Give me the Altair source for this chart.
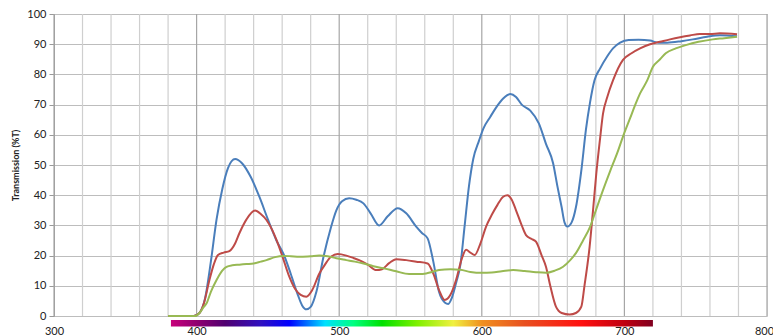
import altair as alt
import pandas as pd

# ---- data ----
blue_nm = [380, 398, 402, 406, 410, 414, 418, 422, 427, 432, 438, 444, 450, 456, 461, 466, 471, 474, 477, 480,
           484, 489, 494, 498, 502, 507, 512, 517, 522, 528, 534, 541, 547, 554, 558, 562, 566, 570, 574, 576.5,
           579, 582, 585, 588, 591, 594, 598, 601, 606, 610, 615, 620, 624, 628, 634, 640, 645, 650, 653, 656,
           658, 660, 663, 666, 670, 673, 676, 679, 683, 688, 692, 697, 703, 710, 718, 724, 730, 740, 748, 758,
           767, 779]
blue_t = [0, 0, 1, 6, 18, 32, 42, 49, 52, 50.5, 46, 39.5, 32, 25, 20.5, 14, 7, 3.5, 2.2, 3,
          8, 19.6, 29, 35, 38, 39, 38.5, 37.3, 34, 30, 33, 35.7, 34, 29.6, 27.5, 25.7, 18, 8, 4.5, 4,
          6, 11, 17, 30, 43, 52, 58, 62, 66, 69, 72, 73.5, 72.5, 70, 68, 63.8, 57, 50.6, 43, 36,
          31, 29.6, 31, 36, 49, 61.6, 71, 78, 82, 86, 88.6, 90.5, 91.4, 91.5, 91.2, 90.5, 90.5, 91, 91.6, 92.5,
          93, 92.6]

red_nm = [380, 398, 402, 405, 409, 412, 415, 419, 423, 427, 430, 435, 441, 445, 449, 453, 456, 460, 465, 469,
          473, 477, 481, 486, 490, 494, 499, 505, 510, 514, 520, 526, 530, 535, 540, 547, 554, 562, 566, 570,
          574, 578, 582, 586, 589, 592, 595, 599, 603, 607, 611, 615, 618, 621, 624, 628, 631, 635, 638, 642,
          645, 648, 652, 656, 661.6, 666, 669.8, 672, 675.6, 678, 680.3, 683, 685, 688, 692, 699, 705, 711, 718,
          725, 732, 739, 746, 753, 760, 767, 779]
red_t = [0, 0, 1, 4, 11.9, 17, 20.2, 21, 21.5, 24, 27.4, 32, 34.9, 33.8, 31.8, 28.5, 25.2, 20, 13, 9,
         7, 6.4, 8.5, 14, 17, 19.5, 20.5, 20, 19.2, 18.5, 17, 15.2, 15.5, 17.5, 18.8, 18.5, 18, 17.4, 14, 8.6,
         5.3, 7, 12, 19, 21.9, 21, 20.2, 24, 29.6, 33.5, 36.8, 39.5, 40, 38.5, 35, 30, 26.8, 25.5, 24.6, 20,
         16.3, 10, 3.1, 1, 0.5, 1, 3.1, 10, 22.9, 35, 47.2, 59, 67, 72.5, 78, 84.8, 87, 88.6, 90,
         90.8, 91.6, 92.3, 92.9, 93.4, 93.4, 93.6, 93.3]

green_nm = [380, 399, 402, 405, 407, 410, 414, 418, 421, 425, 430, 435, 440, 445, 449, 455, 461, 466, 472, 480,
            486, 492, 498, 505, 511, 517, 524, 531, 540, 549, 556, 561, 565, 570, 578, 585, 592, 600, 607, 614,
            622, 630, 638, 645, 651, 657, 662, 666, 671, 676, 680, 685, 690, 695, 699, 704, 708, 711, 716, 720,
            725, 729, 736, 743, 752, 762, 770, 779]
green_t = [0, 0, 1, 3, 4.2, 8, 11.9, 15, 16.3, 16.8, 17, 17.2, 17.4, 18, 18.5, 19.5, 19.9, 19.8, 19.6, 19.8,
           20, 19.8, 19.1, 18.5, 18, 17.4, 16.5, 15.8, 14.8, 13.9, 13.9, 14.1, 14.6, 15.2, 15.5, 15.3, 14.6, 14.3, 14.4, 14.8,
           15.2, 14.9, 14.5, 14.3, 15, 16.3, 18.5, 20.8, 25, 29.6, 35, 41.7, 48, 54, 59.4, 65.5, 70.4, 73.7, 78, 82.5,
           85, 87, 88.6, 89.7, 90.8, 91.6, 92, 92.5]

series_names = ["Blue", "Red", "Green"]
series_colors = ["#4a7ebb", "#be4b48", "#98b954"]

x_grid = list(range(300, 801, 20))
x_labels = list(range(300, 801, 100))
y_ticks = list(range(0, 101, 10))

# spectrum bar (wavelength range and colour stops)
bar_start, bar_end = 382, 720
spec_nm = [382, 400, 420, 445, 465, 490, 510, 530, 555, 580, 600, 630, 670, 700, 720]
spec_col = ["#c8007a", "#900070", "#500070", "#3010c0", "#0000ff", "#00e0ff", "#00ff80", "#00e000",
            "#80f000", "#f0f040", "#f09020", "#e85020", "#ff1010", "#c00010", "#800020"]

# ---- build tables ----
rows = []
for name, xs, ys in zip(series_names, [blue_nm, red_nm, green_nm], [blue_t, red_t, green_t]):
    for i, (a, b) in enumerate(zip(xs, ys)):
        rows.append({"series": name, "nm": a, "t": b, "i": i})
df = pd.DataFrame(rows)

FONT = "Lato"

xscale = alt.Scale(domain=[300, 800], nice=False, zero=False)
yscale = alt.Scale(domain=[0, 100], nice=False)

# vertical grid (minor every 20 nm, darker every 100 nm) + the x labels
grid_df = pd.DataFrame({"nm": x_grid})
vgrid = alt.Chart(grid_df).mark_rule(strokeWidth=1.2).encode(
    x=alt.X("nm:Q", scale=xscale, axis=alt.Axis(
        values=x_labels, title=None, ticks=False, domain=False, grid=False,
        labelOverlap=False, labelFlush=False,
        labelOffset={"condition": {"test": "datum.value === 800", "value": -3}, "value": 0},
        labelFont=FONT, labelFontSize=11, labelColor="#222", labelPadding=9)),
    color=alt.condition("datum.nm % 100 === 0", alt.value("#a6a6a6"), alt.value("#cfcfcf")),
    y=alt.value(0),
    y2=alt.value(302),
)

lines = alt.Chart(df).mark_line(strokeWidth=2, interpolate="monotone").encode(
    x=alt.X("nm:Q", scale=xscale, axis=None),
    y=alt.Y("t:Q", scale=yscale, axis=alt.Axis(
        values=y_ticks, title="Transmission (%T)", titleFont=FONT, titleFontSize=9,
        titleFontWeight="bold", titleColor="#222", titlePadding=6,
        tickSize=5, tickColor="#999", domainColor="#999",
        labelFont=FONT, labelFontSize=11, labelColor="#222", labelPadding=3,
        labelOverlap=False, labelFlush=False,
        gridColor="#bdbdbd", gridWidth=1.2)),
    color=alt.Color("series:N", scale=alt.Scale(domain=series_names, range=series_colors), legend=None),
    order="i:Q",
    detail="series:N",
)

span = bar_end - bar_start
stops = [alt.GradientStop(offset=(n - bar_start) / span, color=c) for n, c in zip(spec_nm, spec_col)]
bar_df = pd.DataFrame({"nm": [bar_start], "nm_end": [bar_end]})
bar = alt.Chart(bar_df).mark_rect(
    fill=alt.Gradient(gradient="linear", stops=stops, x1=0, x2=1, y1=0, y2=0)
).encode(
    x=alt.X("nm:Q", scale=xscale, axis=None),
    x2="nm_end:Q",
    y=alt.value(306),
    y2=alt.value(312.5),
)

chart = alt.layer(vgrid, lines, bar).resolve_scale(color="independent").resolve_axis(x="independent").properties(
    width=713, height=302,
    autosize=alt.AutoSizeParams(type="none"),
    padding={"left": 46, "top": 6, "right": 6, "bottom": 20},
).configure_view(stroke=None).configure(background="white")

chart.save("out.html", embed_options={"renderer": "svg", "actions": False})
